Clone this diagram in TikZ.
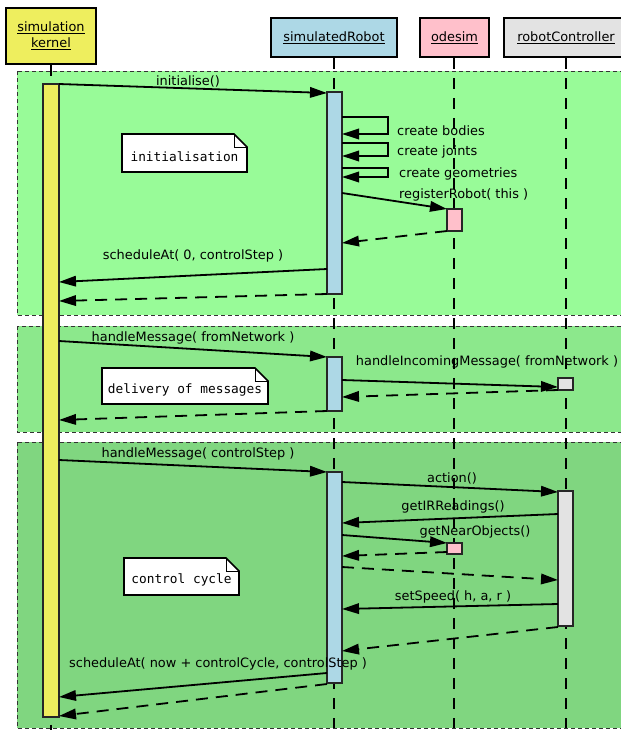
\documentclass[tikz,border=0pt]{standalone}
\usepackage{fontspec}
\setmainfont{DejaVu Sans}
\setmonofont{DejaVu Sans Mono}
\usetikzlibrary{arrows.meta}
\definecolor{kyellow}{RGB}{238,238,94}
\definecolor{rblue}{RGB}{173,216,230}
\definecolor{opink}{RGB}{255,192,203}
\definecolor{cgray}{RGB}{227,227,227}
\definecolor{fone}{RGB}{152,251,152}
\definecolor{ftwo}{RGB}{140,232,140}
\definecolor{fthree}{RGB}{128,214,128}
\begin{document}
\begin{tikzpicture}[x=1pt,y=-1pt,
  font=\fontsize{12.9}{17}\selectfont,
  hdr/.style={draw=black, line width=2pt, inner sep=0pt, align=center},
  actbar/.style={draw=black!85, line width=1.6pt},
  lifeline/.style={line width=1.7pt, dash pattern=on 11pt off 9pt},
  msg/.style={line width=1.8pt, -{Triangle[length=17pt,width=10.5pt]}},
  ret/.style={msg, dash pattern=on 12pt off 8pt},
  frm/.style={draw=black!80, line width=0.9pt, dash pattern=on 4pt off 3pt},
  lbl/.style={inner sep=0pt},
  notetext/.style={inner sep=0pt, font=\ttfamily\fontsize{12.8}{15}\selectfont},
  noteline/.style={draw=black, fill=white, line width=1.6pt, line join=miter},
  fold/.style={draw=black, line width=0.8pt}]
\useasboundingbox (0,0) rectangle (621,732);
\clip (0,0) rectangle (621,732);

% frames
\path[frm, fill=fone] (17,71) rectangle (640,315);
\path[frm, fill=ftwo] (17,326) rectangle (640,432);
\path[frm, fill=fthree] (17,442) rectangle (640,728);

% header boxes
\node[hdr, fill=kyellow, minimum width=90pt, minimum height=56pt] (kernel) at (51,35.5)
  {\underline{simulation}\\[-1pt]\underline{kernel}};
\node[hdr, fill=rblue, minimum width=126pt, minimum height=39pt] (robot) at (334,37.5)
  {\underline{simulatedRobot}};
\node[hdr, fill=opink, minimum width=69pt, minimum height=39pt] (odesim) at (454.5,37.5)
  {\underline{odesim}};
\node[hdr, fill=cgray, minimum width=124pt, minimum height=39pt] (ctrl) at (566,37.5)
  {\underline{robotController}};

% lifelines
\coordinate (kend) at (51,730);
\coordinate (rend) at (334,728);
\coordinate (oend) at (454,728);
\coordinate (cend) at (566,728);
\draw[lifeline] (kernel.south) -- (kend);
\draw[lifeline] (robot.south) -- (rend);
\draw[lifeline] ([xshift=-0.5pt]odesim.south) -- (oend);
\draw[lifeline] (ctrl.south) -- (cend);

% activation bars
\path[actbar, fill=kyellow] (43,84) rectangle (59,717);
\path[actbar, fill=rblue] (327,92) rectangle (342,294);
\path[actbar, fill=opink] (447,209) rectangle (462,231);
\path[actbar, fill=rblue] (327,357) rectangle (342,411);
\path[actbar, fill=cgray] (558,378) rectangle (573,390);
\path[actbar, fill=rblue] (327,472) rectangle (342,683);
\path[actbar, fill=cgray] (558,491) rectangle (573,626);
\path[actbar, fill=opink] (447,543) rectangle (462,554);

% message end points
\coordinate (a1) at (59,84);   \coordinate (b1) at (327,93);
\coordinate (s1a) at (342,117); \coordinate (s1b) at (388,117); \coordinate (s1c) at (388,134); \coordinate (s1d) at (342,134);
\coordinate (s2a) at (342,143); \coordinate (s2b) at (388,143); \coordinate (s2c) at (388,156); \coordinate (s2d) at (342,156);
\coordinate (s3a) at (342,168); \coordinate (s3b) at (388,168); \coordinate (s3c) at (388,177); \coordinate (s3d) at (342,177);
\coordinate (a3) at (342,193);  \coordinate (b3) at (447,209);
\coordinate (a4) at (447,231);  \coordinate (b4) at (342,243);
\coordinate (a5) at (327,269);  \coordinate (b5) at (59,282);
\coordinate (a6) at (327,294);  \coordinate (b6) at (59,301);
\coordinate (a7) at (59,341);   \coordinate (b7) at (327,357);
\coordinate (a8) at (342,380);  \coordinate (b8) at (558,387);
\coordinate (a9) at (558,390);  \coordinate (b9) at (342,397);
\coordinate (a10) at (327,411); \coordinate (b10) at (59,420);
\coordinate (a11) at (59,460);  \coordinate (b11) at (327,472);
\coordinate (a12) at (342,482); \coordinate (b12) at (558,492);
\coordinate (a13) at (558,514); \coordinate (b13) at (342,523);
\coordinate (a14) at (342,535); \coordinate (b14) at (447,543);
\coordinate (a15) at (447,552); \coordinate (b15) at (342,556);
\coordinate (a16) at (342,567); \coordinate (b16) at (558,580);
\coordinate (a17) at (558,604); \coordinate (b17) at (342,609);
\coordinate (a18) at (558,627); \coordinate (b18) at (342,651);
\coordinate (a19) at (327,673); \coordinate (b19) at (59,697);
\coordinate (a20) at (327,684); \coordinate (b20) at (59,716);

% messages
\draw[msg] (a1) -- (b1);
\draw[msg] (s1a) -- (s1b) -- (s1c) -- (s1d);
\draw[msg] (s2a) -- (s2b) -- (s2c) -- (s2d);
\draw[msg] (s3a) -- (s3b) -- (s3c) -- (s3d);
\draw[msg] (a3) -- (b3);
\draw[ret] (a4) -- (b4);
\draw[msg] (a5) -- (b5);
\draw[ret] (a6) -- (b6);
\draw[msg] (a7) -- (b7);
\draw[msg] (a8) -- (b8);
\draw[ret] (a9) -- (b9);
\draw[ret] (a10) -- (b10);
\draw[msg] (a11) -- (b11);
\draw[msg] (a12) -- (b12);
\draw[msg] (a13) -- (b13);
\draw[msg] (a14) -- (b14);
\draw[ret] (a15) -- (b15);
\draw[ret] (a16) -- (b16);
\draw[msg] (a17) -- (b17);
\draw[ret] (a18) -- (b18);
\draw[msg] (a19) -- (b19);
\draw[ret] (a20) -- (b20);

% labels
\node[lbl] (t1) at (188,81.5) {initialise()};
\node[lbl, anchor=west] (t2) at (397,131) {create bodies};
\node[lbl, anchor=west] (t3) at (397,152) {create joints};
\node[lbl, anchor=west] (t4) at (399,174) {create geometries};
\node[lbl, anchor=west] (t5) at (399,195) {registerRobot( this )};
\node[lbl] (t6) at (193,256) {scheduleAt( 0, controlStep )};
\node[lbl] (t7) at (193,338) {handleMessage( fromNetwork )};
\node[lbl] (t8) at (487,362) {handleIncomingMessage( fromNetwork )};
\node[lbl] (t9) at (198,454) {handleMessage( controlStep )};
\node[lbl] (t10) at (452,478) {action()};
\node[lbl] (t11) at (453,507) {getIRReadings()};
\node[lbl] (t12) at (475,532) {getNearObjects()};
\node[lbl] (t13) at (453,597) {setSpeed( h, a, r )};
\node[lbl] (t14) at (218,664) {scheduleAt( now + controlCycle, controlStep )};

% notes
\path[noteline] (122,134) -- (234,134) -- (247,147) -- (247,172) -- (122,172) -- cycle;
\draw[fold] (234,134) -- (234,147) -- (247,147);
\node[notetext] (n1) at (184.5,157) {initialisation};

\path[noteline] (102,368) -- (255,368) -- (268,381) -- (268,404) -- (102,404) -- cycle;
\draw[fold] (255,368) -- (255,381) -- (268,381);
\node[notetext] (n2) at (185,389.5) {delivery of messages};

\path[noteline] (124,558) -- (226,558) -- (239,571) -- (239,595) -- (124,595) -- cycle;
\draw[fold] (226,558) -- (226,571) -- (239,571);
\node[notetext] (n3) at (181.5,579.5) {control cycle};
\end{tikzpicture}
\end{document}
